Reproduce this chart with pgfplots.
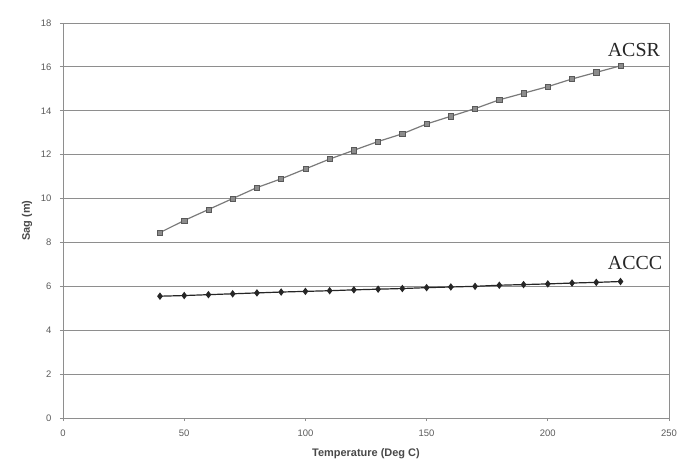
\documentclass[border=0pt]{standalone}
\usepackage{pgfplots}
\pgfplotsset{compat=1.18}
\usepackage{fontspec}
\setmainfont{Liberation Sans}
\newfontfamily\timesfont{Liberation Serif}
\definecolor{gridc}{HTML}{8E8E8E}
\definecolor{tickc}{HTML}{5A5A5A}
\definecolor{acsrline}{HTML}{7A7A7A}
\definecolor{acsrfill}{HTML}{8C8C8C}
\begin{document}
\begin{tikzpicture}
\path[use as bounding box] (-63bp,-51bp) rectangle (615bp,418bp);
\begin{axis}[
  scale only axis,
  width=606bp, height=395bp,
  xmin=0, xmax=250, ymin=0, ymax=18,
  xtick={0,50,...,250}, ytick={0,2,...,18},
  ymajorgrids, major grid style={gridc, line width=0.9bp},
  axis line style={gridc, line width=0.8bp},
  tick style={gridc, line width=0.8bp},
  tick align=outside, major tick length=3bp,
  xtick pos=bottom, ytick pos=left,
  /pgf/number format/assume math mode=true,
  ticklabel style={font=\fontsize{9.5}{10}\selectfont, text=tickc},
  xticklabel style={yshift=-5bp},
  yticklabel style={xshift=-5bp},
  xlabel={\bfseries Temperature (Deg C)},
  ylabel={\bfseries Sag (m)},
  label style={font=\fontsize{11}{12}\selectfont, text=tickc!80!black},
  xlabel style={yshift=-5bp},
  ylabel style={yshift=2bp},
  clip=false,
]
\addplot[acsrline, line width=1.2bp, mark=square*, mark size=2.6bp,
  mark options={fill=acsrfill, draw=black!65, line width=0.6bp}] coordinates {
(40,8.45) (50,9.0) (60,9.5) (70,10.0) (80,10.5) (90,10.9) (100,11.35)
(110,11.8) (120,12.2) (130,12.6) (140,12.95) (150,13.4) (160,13.75)
(170,14.1) (180,14.5) (190,14.8) (200,15.1) (210,15.45) (220,15.75) (230,16.05)
};
\addplot[black!85, line width=1.2bp, mark=diamond*, mark size=2.8bp,
  mark options={fill=black!85, draw=black!85}] coordinates {
(40,5.55) (50,5.58) (60,5.62) (70,5.66) (80,5.70) (90,5.74) (100,5.77)
(110,5.80) (120,5.84) (130,5.87) (140,5.90) (150,5.94) (160,5.97)
(170,6.00) (180,6.05) (190,6.08) (200,6.11) (210,6.15) (220,6.18) (230,6.22)
};
\node[font=\timesfont\fontsize{20}{22}\selectfont, text=black!85] at (axis cs:235.5,16.75) {ACSR};
\node[font=\timesfont\fontsize{20}{22}\selectfont, text=black!85] at (axis cs:236,7.05) {ACCC};
\end{axis}
\end{tikzpicture}
\end{document}
